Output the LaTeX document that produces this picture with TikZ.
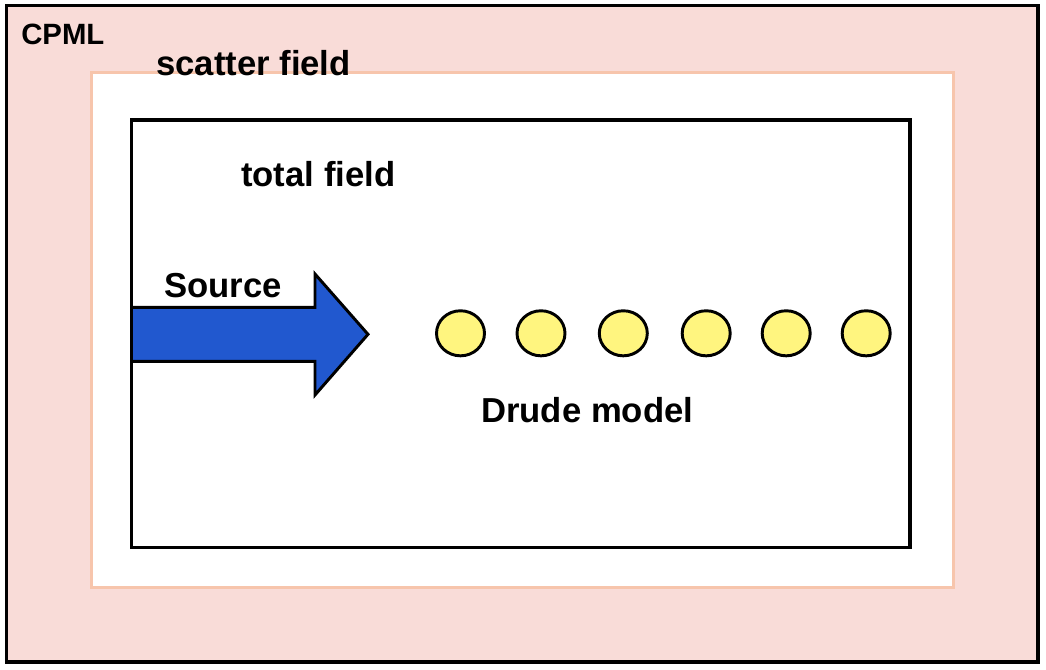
\documentclass[tikz,border=0pt]{standalone}
\usepackage{fontspec}
\setmainfont{Liberation Sans}
\usetikzlibrary{shapes.geometric}
\definecolor{cpmlC}{HTML}{F9DCD8}
\definecolor{sfC}{HTML}{F7C5AC}
\definecolor{srcC}{HTML}{2158CF}
\definecolor{drC}{HTML}{FFF57F}
\tikzset{
  region/.style={rectangle, line width=2.3pt, inner sep=0pt, outer sep=0pt},
  lab/.style={font=\bfseries\fontsize{26}{30}\selectfont, inner sep=0pt, anchor=base west},
  slab/.style={font=\bfseries\fontsize{22}{25}\selectfont, inner sep=0pt, anchor=base west},
  drude/.style={ellipse, draw=black, fill=drC, line width=2.2pt, inner sep=0pt,
    minimum width=36pt, minimum height=33.8pt},
}

\begin{document}
\begin{tikzpicture}[x=0.75pt,y=-0.75pt,
  srcarr/.style={draw=black, fill=srcC, line width=2.2pt, line join=miter}]
\useasboundingbox (0,0) rectangle (1046,670);

% ---- regions ---------------------------------------------------------------
\node[region, draw=black, fill=cpmlC, minimum width=773.6pt, minimum height=492.4pt]
  (cpml) at (522.25,333.75) {};
\node[region, draw=sfC, fill=white, minimum width=646.4pt, minimum height=386.1pt]
  (scat) at (522.4,329.9) {};
\node[region, draw=black, fill=white, minimum width=583.7pt, minimum height=320.5pt]
  (tot) at (520.85,333.65) {};
% ---- source ----------------------------------------------------------------
\draw[srcarr] (132,307.3) -- (315,307.3) -- (315,274) -- (368,334.3)
  -- (315,395) -- (315,361.3) -- (132,361.3);
\draw[line width=2.3pt] (tot.north west) -- (tot.south west);
% ---- Drude model -----------------------------------------------------------
\node[drude] (d1) at (460.5,333.3) {};
\node[drude] (d2) at (541,333.3) {};
\node[drude] (d3) at (623.3,333.3) {};
\node[drude] (d4) at (706.2,333.3) {};
\node[drude] (d5) at (786.2,333.3) {};
\node[drude] (d6) at (866.2,333.3) {};
% ---- labels ----------------------------------------------------------------
\node[slab] (lcpml) at (21,45) {CPML};
\node[lab] (lscat) at (156,76) {scatter field};
\node[lab] (ltot)  at (241,187) {total field};
\node[lab] (lsrc)  at (164,298) {Source};
\node[lab] (ldr)   at (481,422) {Drude model};

\end{tikzpicture}
\end{document}
